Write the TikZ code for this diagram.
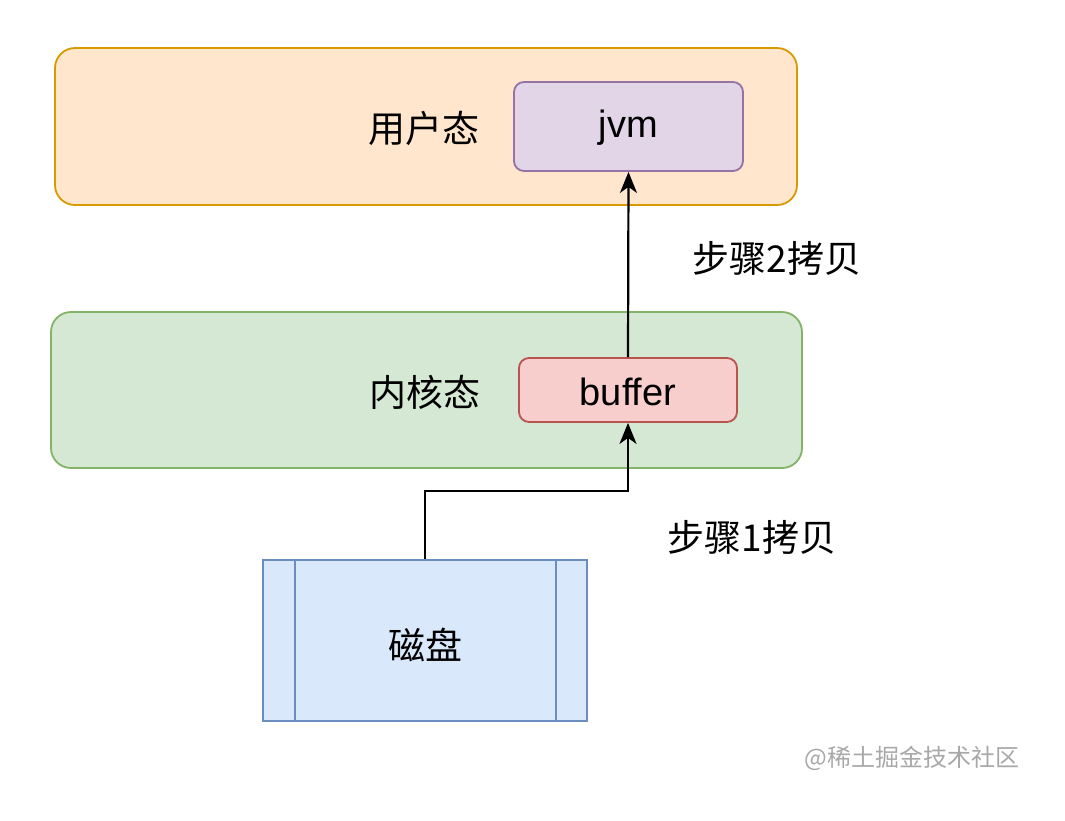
\documentclass[tikz,border=0pt]{standalone}
\usepackage{fontspec}
\setmainfont{Liberation Sans}
\newfontfamily\cjk{Noto Sans CJK SC}
\usetikzlibrary{arrows.meta}
\definecolor{orfill}{HTML}{FFE6CC}\definecolor{ordraw}{HTML}{D79B00}
\definecolor{pufill}{HTML}{E1D5E7}\definecolor{pudraw}{HTML}{9673A6}
\definecolor{grfill}{HTML}{D5E8D4}\definecolor{grdraw}{HTML}{82B366}
\definecolor{rdfill}{HTML}{F8CECC}\definecolor{rddraw}{HTML}{B85450}
\definecolor{blfill}{HTML}{DAE8FC}\definecolor{bldraw}{HTML}{6C8EBF}
\definecolor{wm}{HTML}{A8A8A8}
\tikzset{
  layer/.style={rounded corners=20pt,line width=1.8pt,inner sep=0pt},
  item/.style={rounded corners=10pt,line width=1.8pt,inner sep=0pt},
  lbl/.style={font=\cjk\fontsize{37}{42}\selectfont,inner sep=0pt},
  latin/.style={font=\fontsize{38}{42}\selectfont,inner sep=0pt},
  arr/.style={line width=2.2pt,-{Stealth[length=21pt,width=17pt,inset=6pt]}},
}
\begin{document}
\begin{tikzpicture}[x=1pt,y=-1pt]
\useasboundingbox (0,0) rectangle (1065,820);
\fill[white] (0,0) rectangle (1065,820);
% user layer
\node[layer,fill=orfill,draw=ordraw,minimum width=742pt,minimum height=157pt] (user) at (426,126.5) {};
\node[lbl] (userl) at (424,128) {用户态};
\node[item,fill=pufill,draw=pudraw,minimum width=229pt,minimum height=89pt] (jvm) at (628.5,126.5) {};
\node[latin] (jvml) at (628.5,128) {jvm};
% kernel layer
\node[layer,fill=grfill,draw=grdraw,minimum width=751pt,minimum height=156pt] (kern) at (426.5,390) {};
\node[lbl] (kernl) at (425,392) {内核态};
\node[item,fill=rdfill,draw=rddraw,minimum width=218pt,minimum height=64pt] (buf) at (628,390) {};
\node[latin] (bufl) at (628,392) {buffer};
% disk
\node[fill=blfill,draw=bldraw,line width=1.8pt,minimum width=324pt,minimum height=161pt,inner sep=0pt] (disk) at (425,640.5) {};
\draw[bldraw,line width=1.8pt] ([xshift=33pt]disk.north west) -- ([xshift=33pt]disk.south west);
\draw[bldraw,line width=1.8pt] ([xshift=-32pt]disk.north east) -- ([xshift=-32pt]disk.south east);
\node[lbl] (diskl) at (425,645) {磁盘};
% arrows
\coordinate (bend1) at (425,491);
\coordinate (bend2) at (628,491);
\draw[arr] (disk.north) -- (bend1) -- (bend2) -- (buf.south);
\draw[arr] (buf.north) -- (jvm.south);
\node[lbl] (s2) at (777,258) {步骤2拷贝};
\node[lbl] (s1) at (752,537) {步骤1拷贝};
\node[font=\cjk\fontsize{24}{28}\selectfont,text=wm,inner sep=0pt] (wmk) at (912,758) {@稀土掘金技术社区};
\end{tikzpicture}
\end{document}
